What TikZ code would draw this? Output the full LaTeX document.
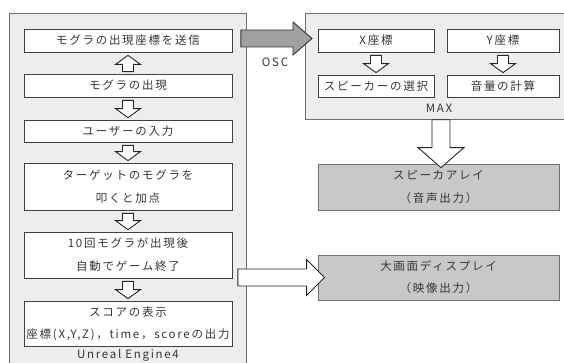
\documentclass[tikz,border=0pt]{standalone}
\usepackage{fontspec}
\setmainfont{Noto Sans CJK JP}[LetterSpace=15]
\usetikzlibrary{calc}
\definecolor{txt}{HTML}{363636}
\definecolor{panelfill}{HTML}{EDEDED}
\definecolor{paneldraw}{HTML}{707070}
\definecolor{outfill}{HTML}{C8C8C8}
\definecolor{garrowfill}{HTML}{A0A0A0}
\newcommand\blkdown[2]{%
  \draw[warrow] let \p1=(#1.south), \p2=(#2.north) in
    (\x1-5.5pt,\y1-3pt) -- (\x1+5.5pt,\y1-3pt) -- (\x1+5.5pt,\y2+11pt) -- (\x1+12.5pt,\y2+11pt)
    -- (\x1,\y2+2pt) -- (\x1-12.5pt,\y2+11pt) -- (\x1-5.5pt,\y2+11pt) -- cycle;}
\newcommand\blkup[2]{%
  \draw[warrow] let \p1=(#1.north), \p2=(#2.south) in
    (\x1-5.5pt,\y1+2pt) -- (\x1+5.5pt,\y1+2pt) -- (\x1+5.5pt,\y2-12pt) -- (\x1+12.5pt,\y2-12pt)
    -- (\x1,\y2-3pt) -- (\x1-12.5pt,\y2-12pt) -- (\x1-5.5pt,\y2-12pt) -- cycle;}
\begin{document}
\begin{tikzpicture}[x=1pt,y=-1pt,
  font=\fontsize{11.5}{23}\selectfont, text=txt,
  panel/.style={draw=paneldraw, fill=panelfill, line width=0.8pt, inner sep=0pt},
  ibox/.style={draw=black!75, fill=white, line width=0.8pt, minimum width=208pt, align=center, inner sep=0pt},
  mbox/.style={draw=black!75, fill=white, line width=0.8pt, align=center, inner sep=0pt},
  obox/.style={draw=paneldraw, fill=outfill, line width=0.8pt, minimum width=241pt, align=center, inner sep=0pt},
  lbl/.style={inner sep=0pt},
  warrow/.style={draw=black!85, fill=white, line width=0.9pt, line join=miter},
  garrow/.style={draw=black!80, fill=garrowfill, line width=0.9pt, line join=miter}]
\useasboundingbox (0,0) rectangle (564,363);
\clip (0,0) rectangle (564,363);
% panels
\node[panel, minimum width=237pt, minimum height=360pt, anchor=north west] (ue) at (9,13) {};
\node[panel, minimum width=262pt, minimum height=106pt, anchor=north west] (mx) at (305,13) {};
% UE4 steps
\node[ibox, minimum height=23pt] (b1) at (128,40.5) {モグラの出現座標を送信};
\node[ibox, minimum height=23pt] (b2) at (128,85.5) {モグラの出現};
\node[ibox, minimum height=22pt] (b3) at (128,131) {ユーザーの入力};
\node[ibox, minimum height=47pt] (b4) at (128,186.5) {ターゲットのモグラを\\叩くと加点};
\node[ibox, minimum height=46pt] (b5) at (128,255) {10回モグラが出現後\\自動でゲーム終了};
\node[ibox, minimum height=45pt, font=\fontsize{11.5}{22}\selectfont] (b6) at (128,323.5) {スコアの表示\\座標(X,Y,Z)，time，scoreの出力};
\node[lbl] (uel) at (128,355) {Unreal\hspace{4pt}Engine4};
% MAX
\node[mbox, minimum width=116pt, minimum height=23pt] (x1) at (376,40.5) {X座標};
\node[mbox, minimum width=112pt, minimum height=23pt] (y1) at (503,40.5) {Y座標};
\node[mbox, minimum width=116pt, minimum height=22pt] (x2) at (376,86) {スピーカーの選択};
\node[mbox, minimum width=112pt, minimum height=22pt] (y2) at (503,86) {音量の計算};
\node[lbl] (mxl) at (439,108) {MAX};
% outputs
\node[obox, minimum height=46pt] (spk) at (438.5,187) {スピーカアレイ\\（音声出力）};
\node[obox, minimum height=45pt, font=\fontsize{11.5}{22}\selectfont] (disp) at (438.5,277.5) {大画面ディスプレイ\\（映像出力）};
\node[lbl] (osc) at (275,62) {OSC};
% small block arrows
\blkup{b2}{b1}
\blkdown{b2}{b3}
\blkdown{b3}{b4}
\blkdown{b4}{b5}
\blkdown{b5}{b6}
\blkdown{x1}{x2}
\blkdown{y1}{y2}
% gray OSC arrow
\draw[garrow] let \p1=(ue.east), \p2=(mx.west), \p3=(b1.center) in
  (\x1-6pt,\y3+10.5pt) -- (\x2-12pt,\y3+10.5pt) -- (\x2-12pt,\y3+18.5pt) -- (\x2+7pt,\y3+2pt)
  -- (\x2-12pt,\y3-14.5pt) -- (\x2-12pt,\y3-6.5pt) -- (\x1-6pt,\y3-6.5pt) -- cycle;
% white arrow to display
\draw[warrow] let \p1=(ue.east), \p2=(disp.west) in
  (\x1-9pt,\y2+8.5pt) -- (\x2-11pt,\y2+8.5pt) -- (\x2-11pt,\y2+18pt) -- (\x2+7pt,\y2)
  -- (\x2-11pt,\y2-18pt) -- (\x2-11pt,\y2-8.5pt) -- (\x1-9pt,\y2-8.5pt) -- cycle;
% big down arrow MAX -> speaker
\draw[warrow] let \p1=(mx.south), \p2=(spk.north) in
  (\x2-6.5pt,\y1) -- (\x2+11.5pt,\y1) -- (\x2+11.5pt,\y2+16pt) -- (\x2+25.5pt,\y2+16pt)
  -- (\x2+2.5pt,\y2-4pt) -- (\x2-20.5pt,\y2+16pt) -- (\x2-6.5pt,\y2+16pt) -- cycle;
\end{tikzpicture}
\end{document}
